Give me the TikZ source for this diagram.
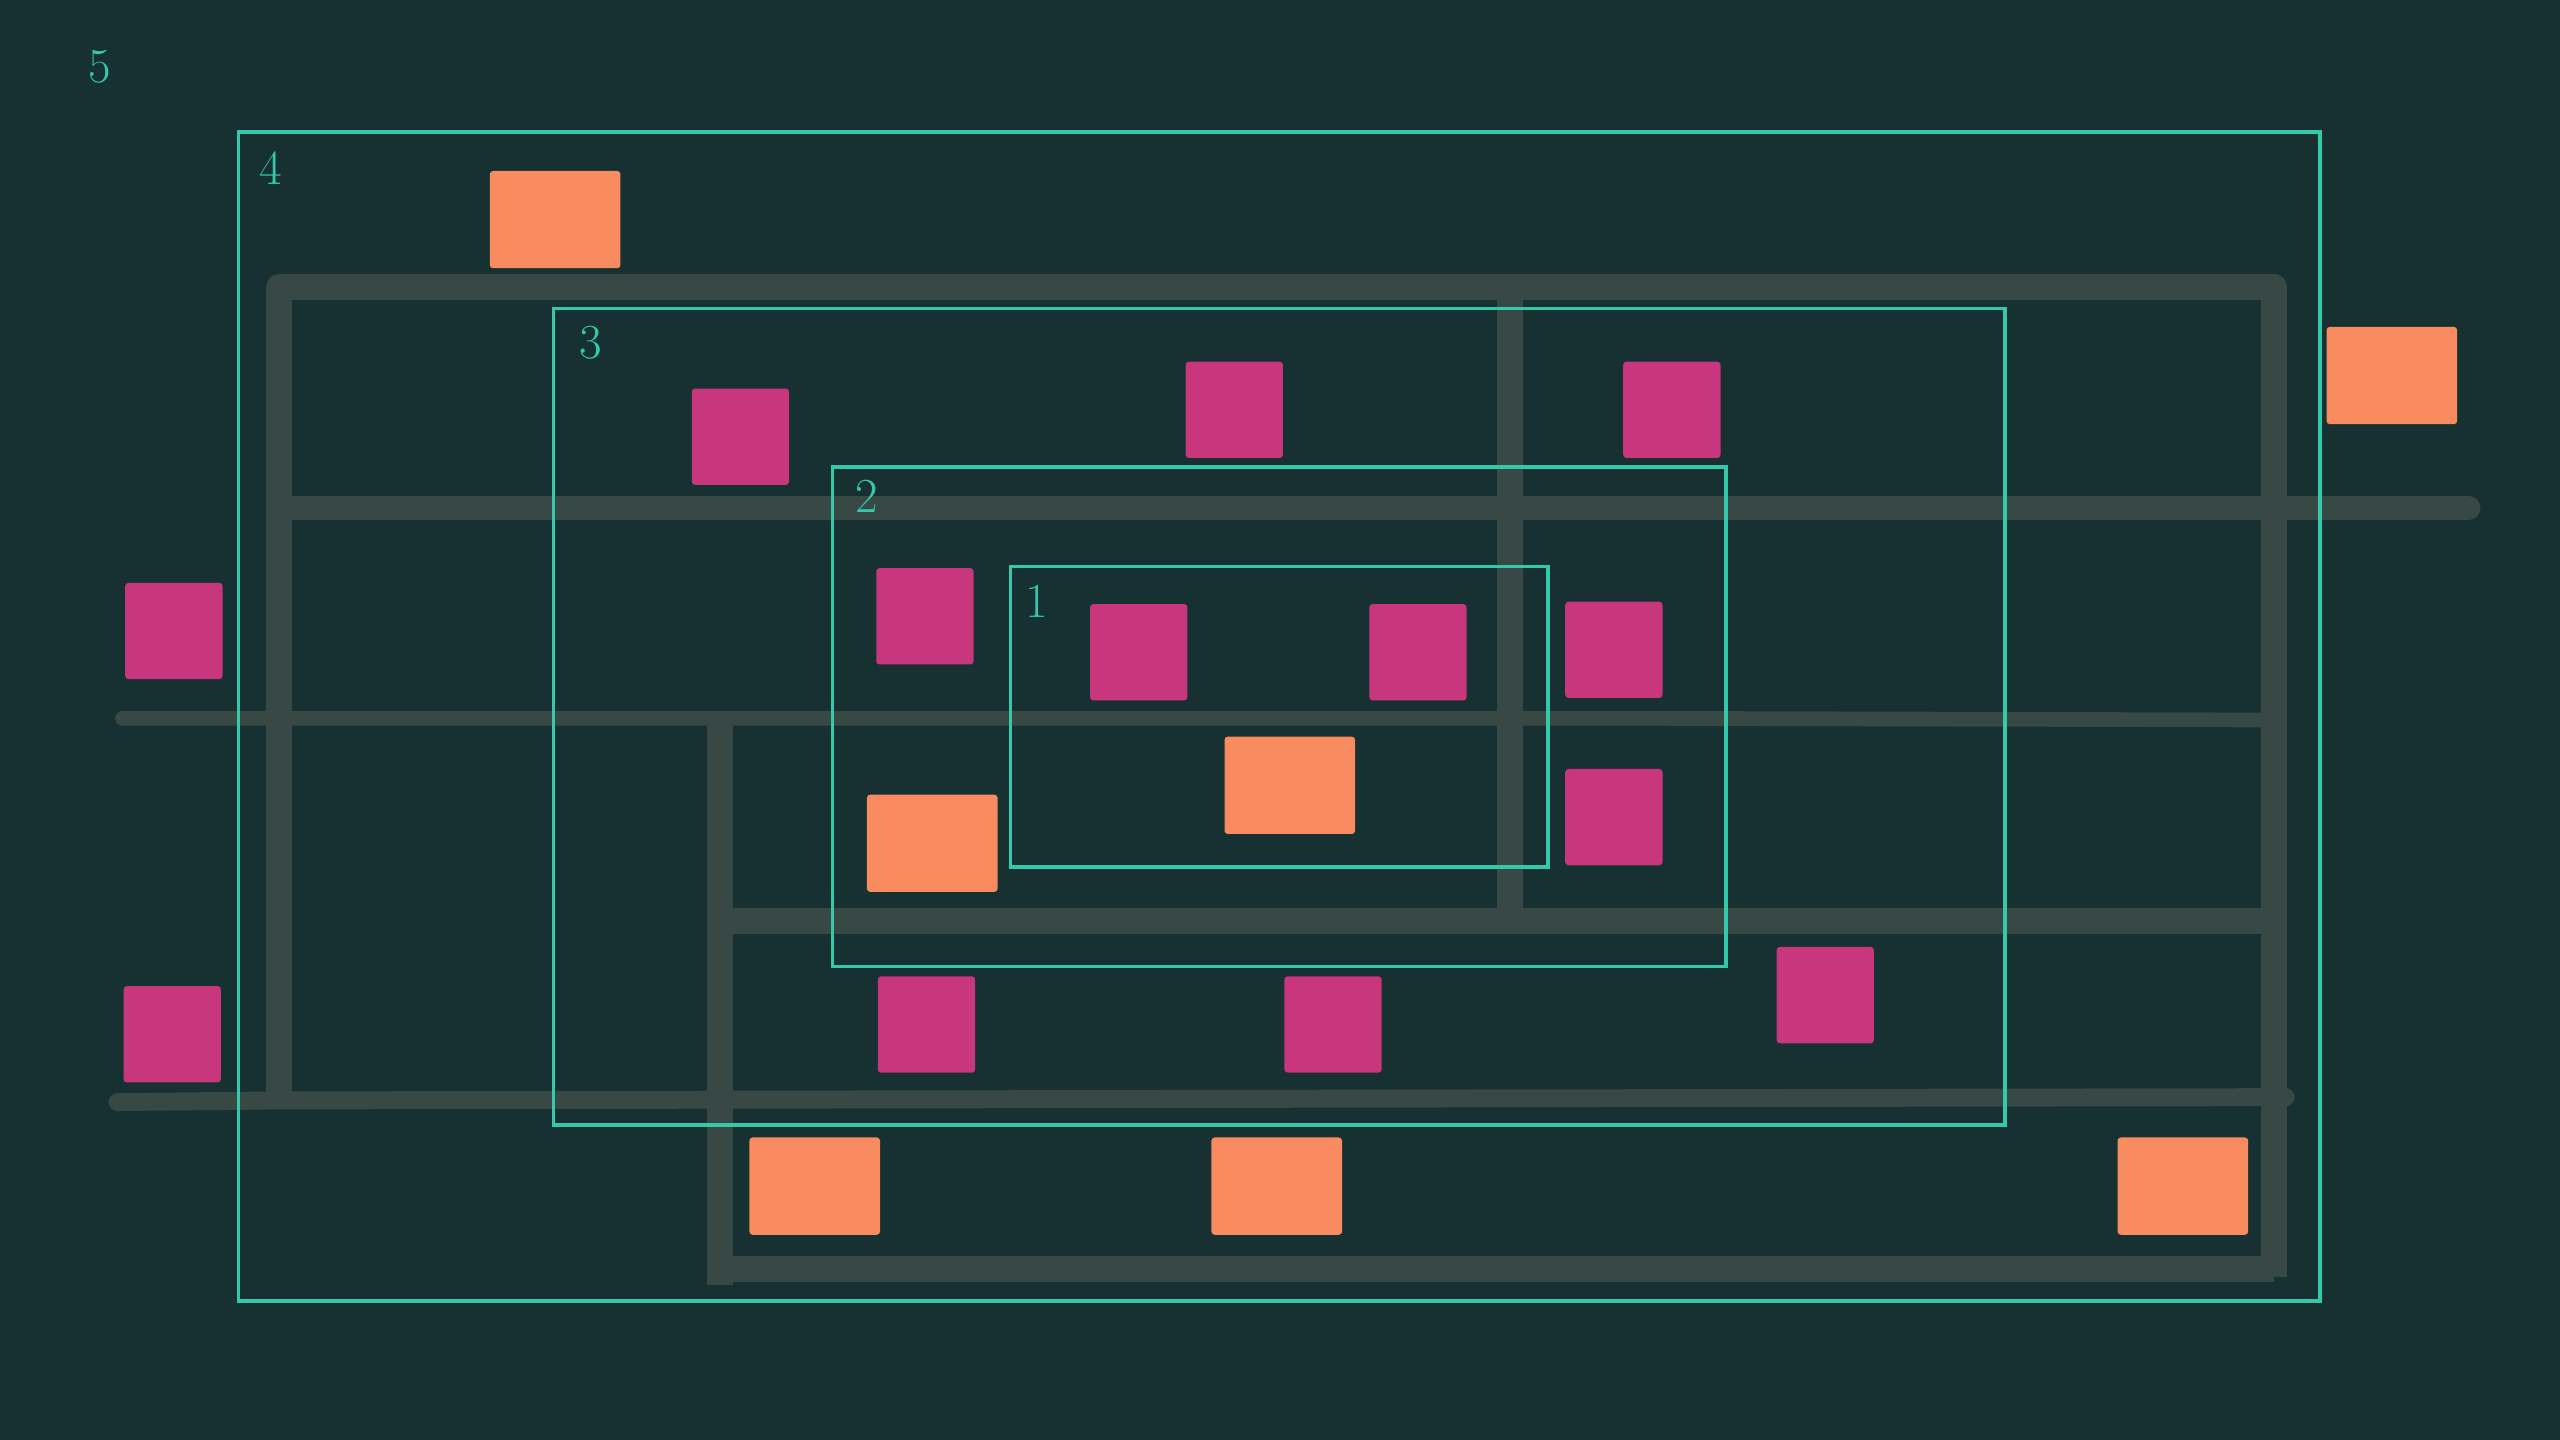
\documentclass[tikz,border=0pt]{standalone}
\usetikzlibrary{positioning}
\definecolor{bgc}{RGB}{23,48,50}
\definecolor{roadc}{RGB}{56,72,69}
\definecolor{framec}{RGB}{52,201,170}
\definecolor{orangec}{RGB}{249,139,97}
\definecolor{pinkc}{RGB}{200,54,126}
\tikzset{
  road/.style={draw=roadc, line width=8pt, line join=round},
  thinroad/.style={road, line width=4.5pt},
  zoneframe/.style={draw=framec, line width=1.1pt},
  zonelabel/.style={text=framec, font=\fontsize{15}{18}\selectfont, inner sep=0pt},
  pinkbox/.style={fill=pinkc, rounded corners=1pt, minimum width=29.8pt, minimum height=29.5pt, inner sep=0pt, outer sep=0pt},
  orangebox/.style={fill=orangec, rounded corners=1pt, minimum width=40pt, minimum height=29.8pt, inner sep=0pt, outer sep=0pt}
}
\begin{document}
\begin{tikzpicture}[x=0.5pt,y=-0.5pt]
\fill[bgc] (0,0) rectangle (1568,882);
\useasboundingbox (0,0) rectangle (1568,882);
% roads
\coordinate (r1) at (171,675);
\coordinate (r2) at (171,171);
\coordinate (r3) at (1393,176);
\coordinate (r4) at (1393,782);
\draw[road] (r1) -- (171,176) -- (r3) -- (r4);
\draw[road] (1393,777) -- (441,777);
\draw[road] (441,440) -- (441,787);
\draw[road] (441,564) -- (1393,564);
\draw[road] (925,176) -- (925,564);
\draw[road, line width=7.3pt, line cap=round] (171,311) -- (1512,311);
\draw[thinroad, line cap=round] (75,440) -- (1015,440) -- (1393,441);
\draw[road, line width=5.5pt, line cap=round] (72,675) -- (171,674) -- (1400,672);
% frames
\draw[zoneframe] (146,81) rectangle (1421,797);
\draw[zoneframe] (339,189) rectangle (1228,689);
\draw[zoneframe] (510,286) rectangle (1057,592);
\draw[zoneframe] (619,347) rectangle (948,531);
% labels
\node[zonelabel] (l5) at (61,41) {5};
\node[zonelabel] (l4) at (166,103) {4};
\node[zonelabel] (l3) at (362,210) {3};
\node[zonelabel] (l2) at (531,304) {2};
\node[zonelabel] (l1) at (635,368) {1};
% orange
\node[orangebox] (o1) at (340,134.5) {};
\node[orangebox] (o2) at (1465,230) {};
\node[orangebox] (o3) at (790,481) {};
\node[orangebox] (o4) at (571,516.5) {};
\node[orangebox] (o5) at (499,726.5) {};
\node[orangebox] (o6) at (782,726.5) {};
\node[orangebox] (o7) at (1337,726.5) {};
% pink
\node[pinkbox] (p1) at (453.5,267.5) {};
\node[pinkbox] (p2) at (756,251) {};
\node[pinkbox] (p3) at (1024,251) {};
\node[pinkbox] (p4) at (106.5,386.5) {};
\node[pinkbox] (p5) at (566.5,377.5) {};
\node[pinkbox] (p6) at (697.5,399.5) {};
\node[pinkbox] (p7) at (868.5,399.5) {};
\node[pinkbox] (p8) at (988.5,398) {};
\node[pinkbox] (p9) at (988.5,500.5) {};
\node[pinkbox] (p10) at (105.5,633.5) {};
\node[pinkbox] (p11) at (567.5,627.5) {};
\node[pinkbox] (p12) at (816.5,627.5) {};
\node[pinkbox] (p13) at (1118,609.5) {};
\end{tikzpicture}
\end{document}
